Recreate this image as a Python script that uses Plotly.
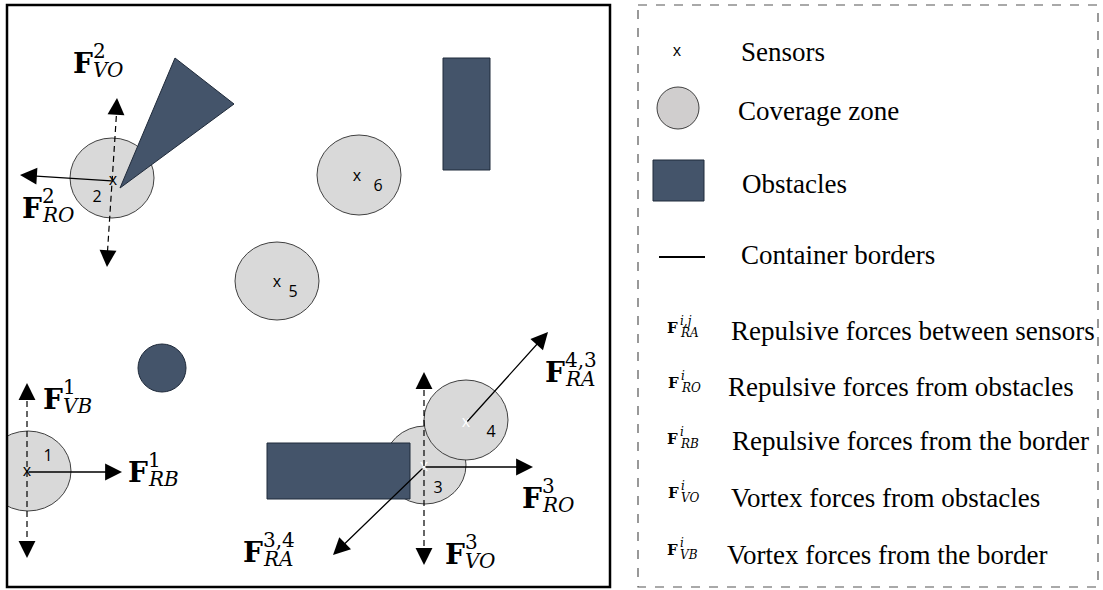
import numpy as np
import plotly.graph_objects as go

W, H = 1103, 590

OBSTACLE_FILL = "#44546A"
OBSTACLE_LINE = "#1F2A3A"
ZONE_FILL = "#D9D9D9"
ZONE_LINE = "#404040"

# sensors and their coverage zones (figure pixel units, y grows downwards)
SENSOR_ID = ["1", "2", "3", "4", "5", "6"]
SENSOR_X = [27, 113, 424, 466, 277, 357]
SENSOR_Y = [472, 181, 467, 423, 283, 177]
SENSOR_MARK_COLOR = ["black", "black", "white", "white", "black", "black"]
ZONE_X = [28, 112, 425, 466, 277, 359]
ZONE_Y = [471, 178, 465, 420, 281, 175]
ZONE_RX = [43, 42, 41, 42, 42, 42]
ZONE_RY = [40, 40, 39, 40, 39, 40]
ID_X = [48, 97, 438, 491, 293, 378]
ID_Y = [457, 198, 489, 433, 293, 187]

# obstacles
TRIANGLE_X = [120, 175, 234]
TRIANGLE_Y = [188, 58, 104]
RECT_X0 = [443, 267]
RECT_X1 = [490, 410]
RECT_Y0 = [58, 443]
RECT_Y1 = [170, 499]
DISC_X, DISC_Y, DISC_R = 162, 368, 24

# container border and legend frame
BOX = [7, 5, 610, 587]
LEGEND_BOX = [638, 5, 1098, 587]

# repulsive forces (solid arrows)
PUSH_FROM_X = [113, 27, 466, 424, 424]
PUSH_FROM_Y = [181, 472, 423, 467, 467]
PUSH_TO_X = [20, 122, 548, 533, 333]
PUSH_TO_Y = [175, 472, 332, 467, 555]

# vortex forces (dashed double arrows)
VORTEX_TOP_X = [117, 27, 424]
VORTEX_TOP_Y = [98, 383, 372]
VORTEX_BOT_X = [107, 27, 424]
VORTEX_BOT_Y = [267, 558, 565]

# force labels on the map
FLABEL_X = [73, 22, 43, 128, 545, 522, 445, 243]
FLABEL_Y = [63, 208, 399, 472, 372, 498, 554, 552]
FLABEL_SUB = ["VO", "RO", "VB", "RB", "RA", "RO", "VO", "RA"]
FLABEL_SUP = ["2", "2", "1", "1", "4,3", "3", "3", "3,4"]

# legend
LEGEND_LABELS = ["Sensors", "Coverage zone", "Obstacles", "Container borders"]
LEGEND_TEXT_X = [742, 739, 743, 742]
LEGEND_TEXT_Y = [52, 111, 184, 255]
FORCE_LEGEND_LABELS = [
    "Repulsive forces between sensors",
    "Repulsive forces from obstacles",
    "Repulsive forces from the border",
    "Vortex forces from obstacles",
    "Vortex forces from the border",
]
FORCE_LEGEND_SUB = ["RA", "RO", "RB", "VO", "VB"]
FORCE_LEGEND_SUP = ["i,j", "i", "i", "i", "i"]
FORCE_LEGEND_TEXT_X = [732, 729, 733, 732, 728]
FORCE_LEGEND_TEXT_Y = [331, 387, 441, 498, 555]
FORCE_LEGEND_SYM_X = [667, 668, 667, 668, 667]
FORCE_LEGEND_SYM_Y = [328, 383, 439, 493, 550]

fig = go.Figure()
shapes = []
annotations = []

# coverage zones
for cx, cy, rx, ry in zip(ZONE_X, ZONE_Y, ZONE_RX, ZONE_RY):
    shapes.append(dict(type="circle", xref="x", yref="y", layer="below",
                       x0=cx - rx, x1=cx + rx, y0=cy - ry, y1=cy + ry,
                       fillcolor=ZONE_FILL, line=dict(color=ZONE_LINE, width=1)))

# obstacles
tri = "M " + " L ".join(f"{x},{y}" for x, y in zip(TRIANGLE_X, TRIANGLE_Y)) + " Z"
shapes.append(dict(type="path", path=tri, xref="x", yref="y", layer="below",
                   fillcolor=OBSTACLE_FILL, line=dict(color=OBSTACLE_LINE, width=1)))
for x0, x1, y0, y1 in zip(RECT_X0, RECT_X1, RECT_Y0, RECT_Y1):
    shapes.append(dict(type="rect", xref="x", yref="y", layer="below",
                       x0=x0, x1=x1, y0=y0, y1=y1,
                       fillcolor=OBSTACLE_FILL, line=dict(color=OBSTACLE_LINE, width=1)))
shapes.append(dict(type="circle", xref="x", yref="y", layer="below",
                   x0=DISC_X - DISC_R, x1=DISC_X + DISC_R,
                   y0=DISC_Y - DISC_R, y1=DISC_Y + DISC_R,
                   fillcolor=OBSTACLE_FILL, line=dict(color=OBSTACLE_LINE, width=1)))

# white margin left of the container (zone 1 is cut by the border)
shapes.append(dict(type="rect", xref="x", yref="y", layer="below",
                   x0=0, x1=BOX[0], y0=0, y1=H, fillcolor="white", line=dict(width=0)))

# container border and legend frame
shapes.append(dict(type="rect", xref="x", yref="y", x0=BOX[0], y0=BOX[1], x1=BOX[2], y1=BOX[3],
                   line=dict(color="black", width=2.5)))
shapes.append(dict(type="rect", xref="x", yref="y", x0=LEGEND_BOX[0], y0=LEGEND_BOX[1],
                   x1=LEGEND_BOX[2], y1=LEGEND_BOX[3],
                   line=dict(color="#555555", width=1.2, dash="dash")))

# sensor marks and ids
fig.add_trace(go.Scatter(x=SENSOR_X, y=SENSOR_Y, mode="text", text=["x"] * len(SENSOR_X),
                         textfont=dict(family="Open Sans", size=16, color=SENSOR_MARK_COLOR),
                         textposition="middle center", hoverinfo="skip"))
fig.add_trace(go.Scatter(x=ID_X, y=ID_Y, mode="text", text=SENSOR_ID,
                         textfont=dict(family="Open Sans", size=16, color="black"),
                         textposition="middle center", hoverinfo="skip"))

HEAD = dict(showarrow=True, arrowhead=2, arrowsize=2.6, arrowwidth=1.3, arrowcolor="black",
            text="", xref="x", yref="y", axref="x", ayref="y")

# solid repulsive arrows
for fx, fy, tx, ty in zip(PUSH_FROM_X, PUSH_FROM_Y, PUSH_TO_X, PUSH_TO_Y):
    annotations.append(dict(x=tx, y=ty, ax=fx, ay=fy, **HEAD))

# dashed vortex arrows
for x0, y0, x1, y1 in zip(VORTEX_TOP_X, VORTEX_TOP_Y, VORTEX_BOT_X, VORTEX_BOT_Y):
    shapes.append(dict(type="line", xref="x", yref="y", x0=x0, y0=y0 + 8, x1=x1, y1=y1 - 8,
                       line=dict(color="black", width=1.2, dash="6px,4px")))
    d = np.array([x1 - x0, y1 - y0], dtype=float)
    d /= np.linalg.norm(d)
    annotations.append(dict(x=x0, y=y0, ax=x0 + 14 * d[0], ay=y0 + 14 * d[1], **HEAD))
    annotations.append(dict(x=x1, y=y1, ax=x1 - 14 * d[0], ay=y1 - 14 * d[1], **HEAD))


def force_label(x, y, sub, sup, big, small, fw, up, down):
    font_big = dict(family="DejaVu Serif", size=big, color="black")
    font_small = dict(family="DejaVu Serif", size=small, color="black")
    common = dict(showarrow=False, xref="x", yref="y", xanchor="left", yanchor="middle",
                  borderpad=0)
    return [
        dict(x=x - 1, y=y, text="<b>F</b>", font=font_big, **common),
        dict(x=x + fw, y=y - up, text=sup, font=font_small, **common),
        dict(x=x + fw, y=y + down, text=f"<i>{sub}</i>", font=font_small, **common),
    ]


for x, y, sub, sup in zip(FLABEL_X, FLABEL_Y, FLABEL_SUB, FLABEL_SUP):
    annotations += force_label(x, y, sub, sup, 28, 20, 19, 12, 7)

# legend: symbols
fig.add_trace(go.Scatter(x=[677], y=[52], mode="text", text=["x"],
                         textfont=dict(family="Open Sans", size=16, color="black"),
                         hoverinfo="skip"))
shapes.append(dict(type="circle", xref="x", yref="y", x0=657, x1=699, y0=87, y1=129,
                   fillcolor="#D0CECE", line=dict(color=ZONE_LINE, width=1)))
shapes.append(dict(type="rect", xref="x", yref="y", x0=653, x1=704, y0=160, y1=201,
                   fillcolor=OBSTACLE_FILL, line=dict(color=OBSTACLE_LINE, width=1)))
shapes.append(dict(type="line", xref="x", yref="y", x0=659, x1=705, y0=257, y1=257,
                   line=dict(color="black", width=2)))

for label, x, y in zip(LEGEND_LABELS, LEGEND_TEXT_X, LEGEND_TEXT_Y):
    annotations.append(dict(x=x - 2, y=y, text=label, showarrow=False, xref="x", yref="y",
                            xanchor="left", yanchor="middle", borderpad=0,
                            font=dict(family="Liberation Serif", size=27, color="black")))

for label, sub, sup, tx, ty, sx, sy in zip(FORCE_LEGEND_LABELS, FORCE_LEGEND_SUB, FORCE_LEGEND_SUP,
                                           FORCE_LEGEND_TEXT_X, FORCE_LEGEND_TEXT_Y,
                                           FORCE_LEGEND_SYM_X, FORCE_LEGEND_SYM_Y):
    annotations += force_label(sx, sy, sub, f"<i>{sup}</i>", 15, 12, 12, 7, 5)
    annotations.append(dict(x=tx - 2, y=ty, text=label, showarrow=False, xref="x", yref="y",
                            xanchor="left", yanchor="middle", borderpad=0,
                            font=dict(family="Liberation Serif", size=27, color="black")))

fig.update_layout(
    width=W, height=H,
    margin=dict(l=0, r=0, t=0, b=0),
    paper_bgcolor="white", plot_bgcolor="white",
    showlegend=False,
    xaxis=dict(range=[0, W], visible=False, fixedrange=True),
    yaxis=dict(range=[H, 0], visible=False, fixedrange=True),
    shapes=shapes,
    annotations=annotations,
)

fig.write_html("out.html", config={"displayModeBar": False},
               post_script="document.body.style.margin='0';")
